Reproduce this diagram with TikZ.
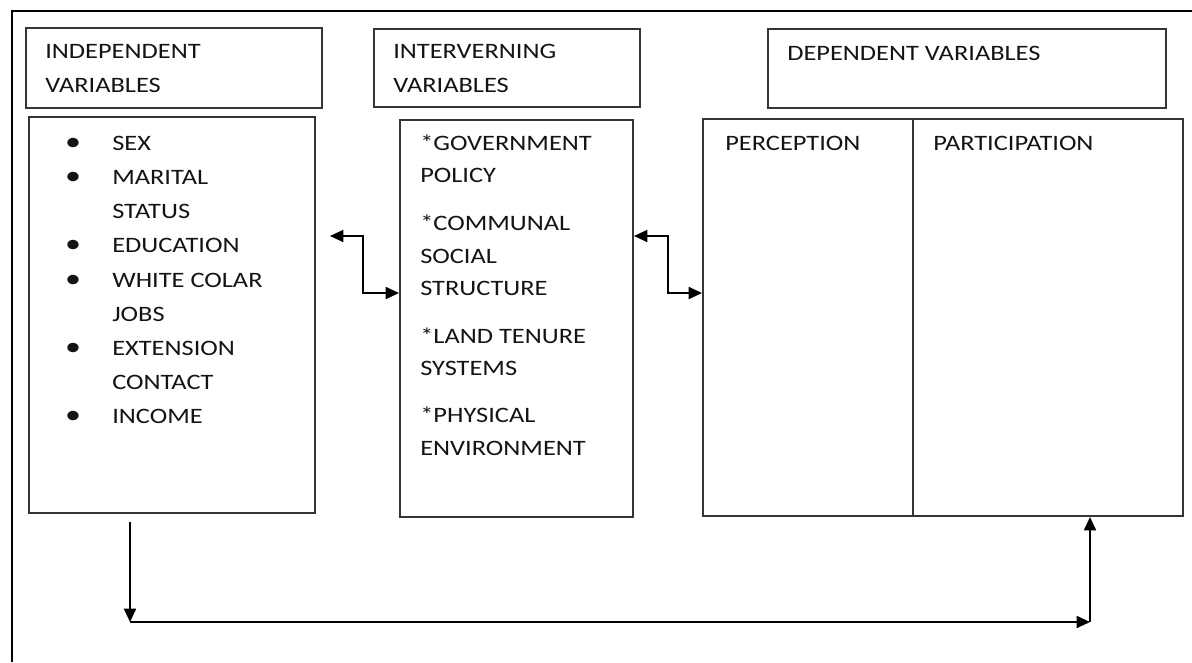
\documentclass[tikz,border=0pt]{standalone}
\usepackage{fontspec}
\setmainfont{Carlito}[FakeStretch=1.2]
\usetikzlibrary{fit,arrows.meta}
\definecolor{boxc}{HTML}{353535}
\definecolor{txtc}{HTML}{141414}
\begin{document}
\begin{tikzpicture}[x=0.75pt,y=-0.75pt,
  box/.style={draw=boxc,line width=1.5pt,inner sep=0pt},
  boxline/.style={draw=boxc,line width=1.5pt},
  txt/.style={anchor=base west,inner sep=0pt,text=txtc,font=\fontsize{16.5}{20}\selectfont},
  bul/.style={anchor=base,inner sep=0pt,text=txtc,font=\fontsize{20}{20}\selectfont},
  arr/.style={draw=black,line width=1.4pt,-{Triangle[length=10pt,width=9pt]}},
  darr/.style={draw=black,line width=1.4pt,{Triangle[length=10pt,width=9pt]}-{Triangle[length=10pt,width=9pt]}},
]
\useasboundingbox (0,0) rectangle (1192,662);
\fill[white] (0,0) rectangle (1192,662);
\draw[line width=1pt,black] (12,662) -- (12,11) -- (1192,11);

% boxes
\node[box,fit={(26,28)(322,108)}] (ih) {};
\node[box,fit={(29,117)(315,513)}] (ib) {};
\node[box,fit={(374,29)(640,107)}] (vh) {};
\node[box,fit={(400,120)(633,517)}] (vb) {};
\node[box,fit={(768,29)(1166,108)}] (dh) {};
\node[box,fit={(703,119)(1183,516)}] (db) {};
\coordinate (divt) at (913,119);
\coordinate (divb) at (913,516);
\draw[boxline] (divt) -- (divb);

% headers
\node[txt] (ih1) at (45,58) {INDEPENDENT};
\node[txt] (ih2) at (45,92) {VARIABLES};
\node[txt] (vh1) at (393,58) {INTERVERNING};
\node[txt] (vh2) at (393,92) {VARIABLES};
\node[txt] (dh1) at (787,60) {DEPENDENT VARIABLES};
\node[txt] (dp1) at (725,150) {PERCEPTION};
\node[txt] (dp2) at (933,150) {PARTICIPATION};

% independent list
\foreach \t/\y [count=\i] in {SEX/150,MARITAL/184,STATUS/218,EDUCATION/252,WHITE COLAR/287,JOBS/321,EXTENSION/355,CONTACT/389,INCOME/423}
  \node[txt] (il\i) at (112,\y) {\t};
\foreach \y [count=\i] in {150,184,252,287,355,423}
  \node[bul] (bu\i) at (73,\y) {•};

% intervening list
\foreach \t/\y [count=\i] in {*GOVERNMENT/150,POLICY/182,*COMMUNAL/230,SOCIAL/263,STRUCTURE/295,*LAND TENURE/343,SYSTEMS/375,*PHYSICAL/422,ENVIRONMENT/455}
  \node[txt] (vl\i) at (420,\y) {\t};

% connectors
\coordinate (a1) at (330,236);
\coordinate (a1m) at (363,236);
\coordinate (a1n) at (363,293);
\coordinate (a2m) at (668,236);
\coordinate (a2n) at (668,293);
\draw[darr] (a1) -- (a1m) -- (a1n) -- (a1n -| vb.west);
\draw[darr] (vb.east |- a2m) -- (a2m) -- (a2n) -- (a2n -| db.west);

\coordinate (b0) at (130,522);
\coordinate (b1) at (130,622);
\coordinate (b2) at (1090,622);
\draw[arr] (b0) -- (b1);
\draw[arr] (b1) -- (b2);
\draw[arr] (b2) -- (b2 |- db.south);
\end{tikzpicture}
\end{document}
